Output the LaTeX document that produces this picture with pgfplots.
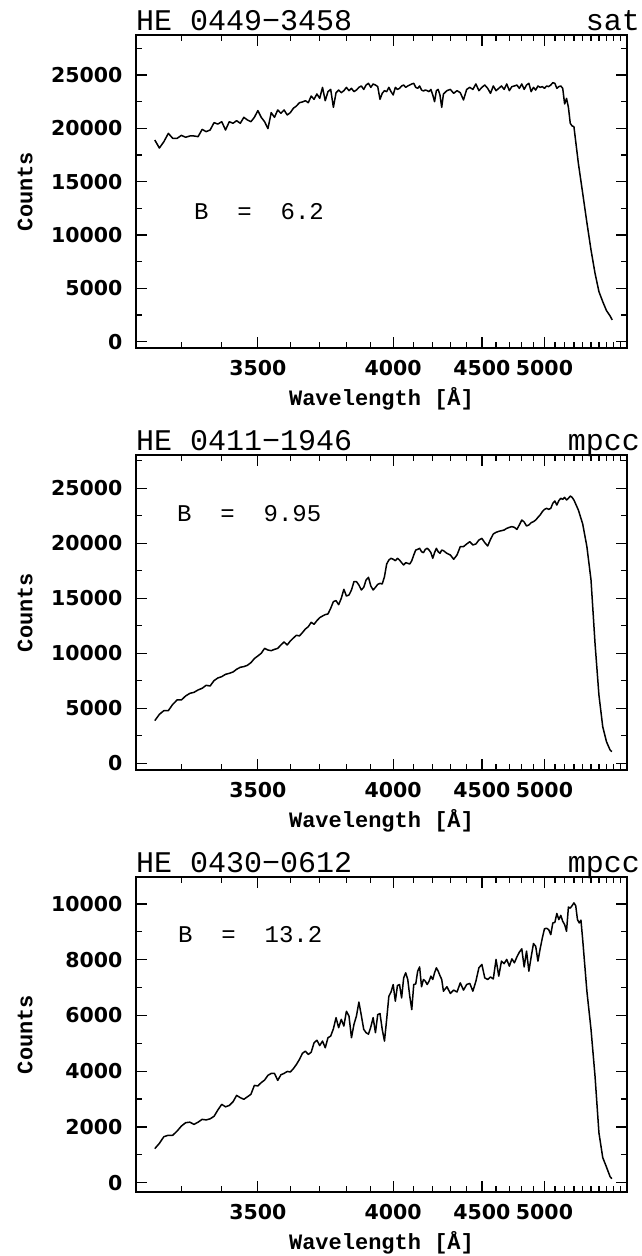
\documentclass[border=0pt]{standalone}
\usepackage{pgfplots}
\pgfplotsset{compat=1.18}
\usepackage{fontspec}
\setmainfont{Liberation Mono}
\newfontfamily\ticksfont{DejaVu Sans}
\begin{document}
\begin{tikzpicture}[x=1pt,y=1pt]
\path[use as bounding box] (0,0) rectangle (642,-1256);
\pgfplotsset{
  spec/.style={
    scale only axis, width=491pt,
    anchor=north west,
    x coord trafo/.code={%
      \pgfmathfloatparsenumber{##1}\let\wla\pgfmathresult
      \pgfmathfloatparsenumber{1600}\let\wlb\pgfmathresult
      \pgfmathfloatsubtract{\wla}{\wlb}\let\wlc\pgfmathresult
      \pgfmathfloatparsenumber{-1000}\let\wld\pgfmathresult
      \pgfmathfloatdivide{\wld}{\wlc}%
      \pgfmathfloattofixed{\pgfmathresult}%
    },
    xmin=3200, xmax=6000,
    xtick={3500,4000,4500,5000},
    xticklabels={3500,4000,4500,5000},
    minor xtick={3300,3400,3600,3700,3800,3900,4100,4200,4300,4400,4600,4700,4800,4900,5100,5200,5300,5400,5500,5600,5700,5800,5900},
    scaled y ticks=false,
    tick align=inside,
    xtick pos=both, ytick pos=both,
    xticklabel pos=lower, yticklabel pos=left,
    major tick length=11pt, minor tick length=6pt,
    every tick/.append style={line width=1.3pt, black},
    axis line style={line width=1.8pt},
    tick label style={font=\fontsize{20.5}{20.5}\selectfont\ticksfont\bfseries},
    xticklabel style={anchor=north, yshift=-9pt},
    yticklabel style={anchor=east, xshift=-10pt},
    xlabel={\bfseries Wavelength [Å]},
    ylabel={\bfseries Counts},
    label style={font=\fontsize{22}{22}\selectfont},
    xlabel style={at={(axis description cs:0.5,0)}, anchor=base, yshift=-57pt},
    ylabel style={at={(axis description cs:-0.226,0.5)}, anchor=center},
  },
  spl/.style={black, line width=1.5pt, no markers, sharp plot, line join=round}
}
% ---------------- panel 1 ----------------
\begin{axis}[spec, at={(136pt,-35pt)}, height=313pt,
  ymin=-600, ymax=28750,
  ytick={0,5000,10000,15000,20000,25000},
  yticklabels={0,5000,10000,15000,20000,25000},
  minor ytick={2500,7500,12500,17500,22500,27500}]
\addplot[spl] coordinates {
(3240,18900)(3250,18150)(3260,18750)(3270,19530)(3280,19060)(3290,19060)(3300,19340)(3310,19160)(3320,19280)(3330,19280)
(3340,19220)(3350,19900)(3360,19690)(3370,19840)(3380,20530)(3390,20400)(3400,20620)(3410,19840)(3420,20620)(3430,20470)
(3440,20720)(3450,20470)(3460,21030)(3470,20780)(3480,20620)(3490,21030)(3500,21660)(3510,21030)(3520,20620)(3530,19970)
(3540,21470)(3550,21030)(3560,21720)(3570,21410)(3580,21720)(3590,21250)(3600,21470)(3610,21880)(3620,22090)(3630,22400)
(3640,22470)(3650,22590)(3660,22400)(3670,23030)(3680,22720)(3690,23220)(3700,22810)(3710,23840)(3720,22590)(3730,23440)
(3740,23650)(3750,21970)(3760,23340)(3770,23590)(3780,23340)(3790,23530)(3800,23840)(3810,23530)(3820,23750)(3830,23440)
(3840,23590)(3850,23840)(3860,23970)(3870,23650)(3880,24060)(3890,24220)(3900,23840)(3910,24160)(3920,24060)(3930,23910)
(3940,22720)(3950,23280)(3960,23530)(3970,23440)(3980,23840)(3990,23440)(4000,23130)(4010,23840)(4020,23650)(4030,23750)
(4040,23970)(4050,24060)(4060,23840)(4070,23970)(4080,24060)(4090,24160)(4100,24220)(4110,23840)(4120,23750)(4130,23970)
(4140,23590)(4150,23500)(4160,23590)(4170,23530)(4180,23440)(4190,23650)(4200,23130)(4210,22500)(4220,23530)(4230,23650)
(4240,23130)(4250,21970)(4260,23220)(4280,23530)(4300,23650)(4320,23280)(4340,23530)(4360,23340)(4380,22660)(4400,23650)
(4420,23840)(4440,23650)(4460,24160)(4480,23530)(4500,23840)(4520,24060)(4540,23750)(4560,23280)(4580,23970)(4600,23530)
(4620,23750)(4640,23970)(4660,23650)(4680,24160)(4700,23530)(4720,23910)(4740,23970)(4760,24060)(4780,23750)(4800,24160)
(4820,23650)(4840,24060)(4860,24220)(4880,23440)(4900,23840)(4920,23590)(4940,23970)(4960,23840)(4980,23910)(5000,23750)
(5020,23970)(5040,23910)(5060,24060)(5080,24280)(5100,24220)(5120,23750)(5140,23910)(5160,23970)(5180,23750)(5200,22280)
(5220,22810)(5240,21970)(5260,20470)(5280,20220)(5300,20160)(5350,16720)(5400,13910)(5450,11160)(5500,8590)(5550,6410)
(5600,4690)(5650,3750)(5700,2910)(5750,2410)(5780,2030)
};
\end{axis}
\node[anchor=base west, font=\fontsize{30}{30}\selectfont, inner sep=0pt] at (136,-30) {HE 0449\textminus 3458};
\node[anchor=base east, font=\fontsize{30}{30}\selectfont, inner sep=0pt] at (640,-30) {sat};
\node[anchor=base west, font=\fontsize{24}{24}\selectfont, inner sep=0pt] at (194,-219) {B~~=~~6.2};
% ---------------- panel 2 ----------------
\begin{axis}[spec, at={(136pt,-455pt)}, height=315pt,
  ymin=-610, ymax=28030,
  ytick={0,5000,10000,15000,20000,25000},
  yticklabels={0,5000,10000,15000,20000,25000},
  minor ytick={2500,7500,12500,17500,22500,27500}]
\addplot[spl] coordinates {
(3240,3880)(3250,4450)(3260,4790)(3270,4790)(3280,5360)(3290,5760)(3300,5760)(3310,6120)(3320,6360)(3330,6450)
(3340,6670)(3350,6820)(3360,7090)(3370,7030)(3380,7520)(3390,7760)(3400,7880)(3410,8090)(3420,8180)(3430,8300)
(3440,8550)(3450,8730)(3460,8790)(3470,8910)(3480,9150)(3490,9520)(3500,9760)(3510,10000)(3520,10450)(3530,10300)
(3540,10240)(3550,10360)(3560,10450)(3570,10760)(3580,11030)(3590,10760)(3600,11120)(3610,11390)(3620,11640)(3630,11580)
(3640,11880)(3650,12210)(3660,12420)(3670,12820)(3680,12640)(3690,12970)(3700,13240)(3710,13390)(3720,13520)(3730,13580)
(3740,14090)(3750,14700)(3760,14790)(3770,14420)(3780,15000)(3790,15820)(3800,15210)(3810,15300)(3820,15760)(3830,16520)
(3840,16520)(3850,16210)(3860,15760)(3870,16000)(3880,16670)(3890,16910)(3900,16120)(3910,15760)(3920,16000)(3930,16270)
(3940,16360)(3950,16300)(3960,16970)(3970,18120)(3980,18480)(3990,18640)(4000,18550)(4010,18420)(4020,18640)(4030,18480)
(4040,18240)(4050,18030)(4060,18240)(4070,18180)(4080,18120)(4090,18420)(4100,18940)(4110,19390)(4120,19450)(4130,19550)
(4140,19240)(4150,19150)(4160,19450)(4170,19550)(4180,19390)(4190,19150)(4200,18640)(4210,19150)(4220,19550)(4230,19240)
(4240,19090)(4250,19390)(4260,19330)(4280,19090)(4300,18940)(4320,18550)(4340,18940)(4360,19700)(4380,19700)(4400,19940)
(4420,20150)(4440,19850)(4460,19940)(4480,20300)(4500,20450)(4520,20060)(4540,19760)(4560,20360)(4580,20850)(4600,21000)
(4620,21090)(4640,21150)(4660,21210)(4680,21360)(4700,21450)(4720,21520)(4740,21450)(4760,21270)(4780,21670)(4800,22120)
(4820,21940)(4840,21580)(4860,21670)(4880,21880)(4900,21970)(4920,22120)(4940,22360)(4960,22580)(4980,22880)(5000,23090)
(5020,23180)(5040,23090)(5060,23180)(5080,23640)(5100,23850)(5120,23480)(5140,23880)(5160,24090)(5180,24000)(5200,24180)
(5220,23940)(5240,24090)(5260,24300)(5280,24180)(5300,23940)(5350,23030)(5400,21760)(5450,19700)(5500,16670)(5550,10910)
(5600,6210)(5650,3330)(5700,1970)(5750,1210)(5775,1060)
};
\end{axis}
\node[anchor=base west, font=\fontsize{30}{30}\selectfont, inner sep=0pt] at (136,-450) {HE 0411\textminus 1946};
\node[anchor=base east, font=\fontsize{30}{30}\selectfont, inner sep=0pt] at (640,-450) {mpcc};
\node[anchor=base west, font=\fontsize{24}{24}\selectfont, inner sep=0pt] at (177,-521) {B~~=~~9.95};
% ---------------- panel 3 ----------------
\begin{axis}[spec, at={(136pt,-877pt)}, height=315pt,
  ymin=-337, ymax=10968,
  ytick={0,2000,4000,6000,8000,10000},
  yticklabels={0,2000,4000,6000,8000,10000},
  minor ytick={1000,3000,5000,7000,9000}]
\addplot[spl] coordinates {
(3240,1220)(3250,1410)(3260,1650)(3270,1700)(3280,1700)(3290,1850)(3300,2030)(3310,2150)(3320,2170)(3330,2090)
(3340,2170)(3350,2270)(3360,2250)(3370,2290)(3380,2380)(3390,2610)(3400,2810)(3410,2720)(3420,2770)(3430,2900)
(3440,3130)(3450,3050)(3460,2990)(3470,3080)(3480,3170)(3490,3490)(3500,3470)(3510,3590)(3520,3680)(3530,3850)
(3540,3920)(3550,3920)(3560,3670)(3570,3870)(3580,3920)(3590,3990)(3600,3970)(3610,4090)(3620,4240)(3630,4420)
(3640,4640)(3650,4720)(3660,4600)(3670,4680)(3680,5020)(3690,5110)(3700,4920)(3710,5080)(3720,4840)(3730,5200)
(3740,5260)(3750,5520)(3760,5920)(3770,5560)(3780,5860)(3790,5620)(3800,6150)(3810,5980)(3820,5200)(3830,5680)
(3840,5980)(3850,6480)(3860,6000)(3870,5500)(3880,5380)(3890,5330)(3900,5590)(3910,5920)(3920,5380)(3930,6030)
(3940,6070)(3950,5500)(3960,5080)(3970,5860)(3980,6690)(3990,6840)(4000,7110)(4010,6510)(4020,7070)(4030,7110)
(4040,6630)(4050,7350)(4060,7530)(4070,7290)(4080,6690)(4090,6210)(4100,7110)(4110,7130)(4120,7590)(4130,7740)
(4140,7030)(4150,7290)(4160,7230)(4170,7110)(4180,7230)(4190,7410)(4200,7290)(4210,7530)(4220,7710)(4230,7590)
(4240,7430)(4250,7290)(4260,6870)(4280,7030)(4300,6790)(4320,6910)(4340,6840)(4360,7170)(4380,6910)(4400,7110)
(4420,7150)(4440,6870)(4460,7230)(4480,7710)(4500,7830)(4520,7350)(4540,7290)(4560,7380)(4580,7310)(4600,8010)
(4620,7410)(4640,7950)(4660,7860)(4680,8010)(4700,7770)(4720,8030)(4740,7890)(4760,8100)(4780,8270)(4800,8390)
(4820,7740)(4840,8310)(4860,7590)(4880,8100)(4900,8580)(4920,8480)(4940,7950)(4960,8390)(4980,8780)(5000,9110)
(5020,9130)(5040,9080)(5060,8900)(5080,9320)(5100,9340)(5120,9660)(5140,9440)(5160,9590)(5180,9380)(5200,9260)
(5220,9020)(5240,9890)(5260,9850)(5280,9940)(5300,10040)(5320,9940)(5340,9440)(5360,9320)(5380,9420)(5400,8720)
(5450,6870)(5500,5500)(5550,3820)(5600,1790)(5650,900)(5700,560)(5750,215)(5775,140)
};
\end{axis}
\node[anchor=base west, font=\fontsize{30}{30}\selectfont, inner sep=0pt] at (136,-872) {HE 0430\textminus 0612};
\node[anchor=base east, font=\fontsize{30}{30}\selectfont, inner sep=0pt] at (640,-872) {mpcc};
\node[anchor=base west, font=\fontsize{24}{24}\selectfont, inner sep=0pt] at (178,-942) {B~~=~~13.2};
\end{tikzpicture}
\end{document}
